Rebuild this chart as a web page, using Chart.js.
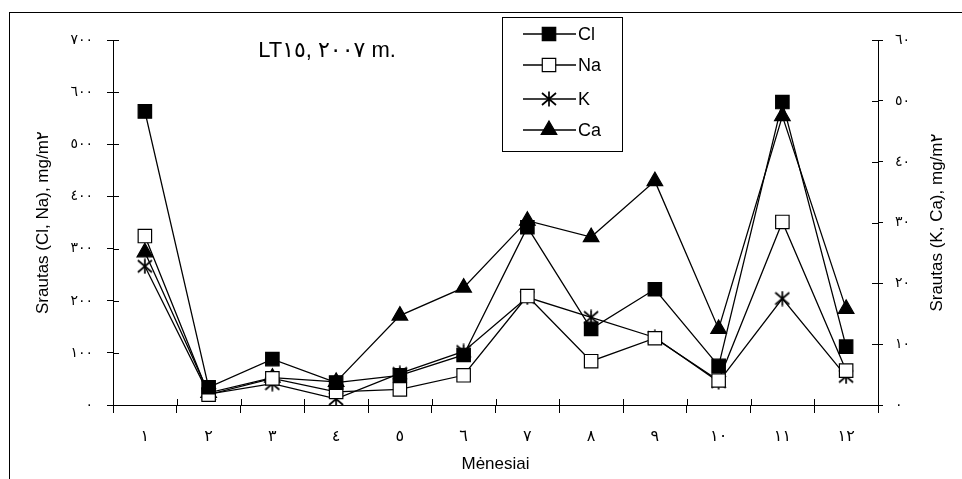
<!DOCTYPE html>
<html>
<head>
<meta charset="utf-8">
<script src="https://cdn.jsdelivr.net/npm/chart.js@4/dist/chart.umd.min.js"></script>
<style>
  html, body { margin: 0; padding: 0; background: #fff; overflow: hidden; }
  .wrap { position: relative; width: 962px; height: 479px; }
  .frame { position: absolute; left: 9px; top: 12px; width: 1200px; height: 800px;
           border-left: 1px solid #000; border-top: 1px solid #000; pointer-events: none; }
</style>
</head>
<body>
<div class="wrap">
  <canvas id="myChart" width="962" height="479"></canvas>
  <div class="frame"></div>
</div>
<script>
const FONT = "'Liberation Sans', Arial, 'DejaVu Sans', sans-serif";

// menesiai (x asis)
const months = ['١', '٢', '٣', '٤', '٥', '٦', '٧', '٨', '٩', '١٠', '١١', '١٢'];
// kaire asis: Cl, Na (mg/m2)
const cl = [563, 34, 88, 43, 57, 96, 341, 146, 222, 75, 581, 112];
const na = [324, 20, 51, 25, 30, 57, 209, 84, 128, 47, 351, 66];
// desine asis: K, Ca (mg/m2)
const k = [22.8, 1.8, 3.5, 1.0, 5.2, 8.8, 17.7, 14.4, 11.1, 3.8, 17.5, 4.7];
const ca = [25.1, 2.0, 4.5, 3.8, 14.7, 19.3, 30.3, 27.6, 36.8, 12.5, 47.5, 15.8];

const leftTicks = ['٠', '١٠٠', '٢٠٠', '٣٠٠', '٤٠٠', '٥٠٠', '٦٠٠', '٧٠٠'];
const rightTicks = ['٠', '١٠', '٢٠', '٣٠', '٤٠', '٥٠', '٦٠'];

// LRM, kad skaiciai nesusikeistu vietomis
const chartTitle = 'LT١٥\u200E, ٢٠٠٧ m.';
const rightTitle = 'Srautas (K, Ca), mg/m٢';

// Excel tipo zvaigzdute (X + vertikali linija)
function makeStar() {
  const c = document.createElement('canvas');
  c.width = 16; c.height = 16;
  const g = c.getContext('2d');
  g.strokeStyle = '#000';
  g.lineWidth = 1.7;
  g.beginPath();
  g.moveTo(8, 0.5); g.lineTo(8, 15.5);
  g.moveTo(1, 2); g.lineTo(15, 14);
  g.moveTo(15, 2); g.lineTo(1, 14);
  g.stroke();
  return c;
}
const starImg = makeStar();

function series(label, data, axis, style, fill, radius) {
  return {
    label: label,
    data: data,
    yAxisID: axis,
    borderColor: '#000',
    borderWidth: 1.3,
    pointStyle: style,
    pointRadius: radius,
    pointHoverRadius: radius,
    pointBackgroundColor: fill,
    pointBorderColor: '#000',
    pointBorderWidth: 1.2,
    tension: 0
  };
}

// trumpi bruksneliai i vidu (kaip Excel "cross")
const crossTicks = {
  id: 'crossTicks',
  afterDraw(chart) {
    const ctx = chart.ctx;
    const a = chart.chartArea;
    ctx.save();
    ctx.strokeStyle = '#000';
    ctx.lineWidth = 1;
    ctx.beginPath();
    const n = months.length;
    for (let i = 0; i <= n; i++) {
      const x = Math.round(a.left + i * (a.right - a.left) / n) + 0.5;
      ctx.moveTo(x, a.bottom); ctx.lineTo(x, a.bottom - 6);
    }
    const yl = chart.scales.y;
    yl.ticks.forEach((t, i) => {
      const y = Math.round(yl.getPixelForTick(i)) + 0.5;
      ctx.moveTo(a.left, y); ctx.lineTo(a.left + 6, y);
    });
    const yr = chart.scales.y1;
    yr.ticks.forEach((t, i) => {
      const y = Math.round(yr.getPixelForTick(i)) + 0.5;
      ctx.moveTo(a.right, y); ctx.lineTo(a.right - 6, y);
    });
    ctx.stroke();

    // desines asies pavadinimas skaitomas is apacios i virsu
    ctx.fillStyle = '#000';
    ctx.font = '17px ' + FONT;
    ctx.textAlign = 'center';
    ctx.textBaseline = 'middle';
    ctx.translate(937, (a.top + a.bottom) / 2);
    ctx.rotate(-Math.PI / 2);
    ctx.fillText(rightTitle, 0, 0);
    ctx.restore();
  }
};

// pavadinimas ir legenda
const titleLegend = {
  id: 'titleLegend',
  afterDraw(chart) {
    const ctx = chart.ctx;
    ctx.save();
    ctx.fillStyle = '#000';
    ctx.font = '22px ' + FONT;
    ctx.textAlign = 'center';
    ctx.textBaseline = 'middle';
    ctx.direction = 'ltr';
    ctx.fillText(chartTitle, 327, 51);

    ctx.strokeStyle = '#000';
    ctx.lineWidth = 1;
    ctx.strokeRect(502.5, 17.5, 120, 134);
    const rows = [34, 65, 99, 130];
    ctx.font = '18px ' + FONT;
    ctx.textAlign = 'left';
    chart.data.datasets.forEach((ds, i) => {
      const y = rows[i];
      ctx.beginPath();
      ctx.lineWidth = 1.3;
      ctx.moveTo(523, y); ctx.lineTo(576, y);
      ctx.stroke();
      ctx.fillStyle = ds.pointBackgroundColor;
      ctx.lineWidth = ds.pointBorderWidth;
      Chart.helpers.drawPoint(ctx, {
        pointStyle: ds.pointStyle, radius: ds.pointRadius, rotation: 0, borderWidth: ds.pointBorderWidth
      }, 549, y);
      ctx.fillStyle = '#000';
      ctx.fillText(ds.label, 578, y + 1);
    });
    ctx.restore();
  }
};

const ctx = document.getElementById('myChart').getContext('2d');
new Chart(ctx, {
  type: 'line',
  data: {
    labels: months,
    datasets: [
      series('Cl', cl, 'y', 'rect', '#000', 9.5),
      series('Na', na, 'y', 'rect', '#fff', 9.5),
      series('K', k, 'y1', starImg, '#000', 8),
      series('Ca', ca, 'y1', 'triangle', '#000', 9)
    ]
  },
  options: {
    responsive: false,
    animation: false,
    layout: { padding: { top: 40, left: 0, right: 0, bottom: 0 } },
    plugins: { legend: { display: false }, tooltip: { enabled: false } },
    scales: {
      x: {
        offset: true,
        grid: { offset: true, drawOnChartArea: false, tickLength: 8, color: '#000' },
        border: { color: '#000', width: 1 },
        ticks: { color: '#000', font: { family: FONT, size: 16 }, padding: 14, maxRotation: 0 },
        title: { display: true, text: 'Mėnesiai', color: '#000', font: { family: FONT, size: 17 }, padding: { top: 0, bottom: 4 } },
        afterFit(s) { s.height = 74; }
      },
      y: {
        position: 'left',
        min: 0, max: 700,
        grid: { drawOnChartArea: false, tickLength: 6, color: '#000' },
        border: { color: '#000', width: 1 },
        ticks: {
          stepSize: 100, color: '#000', padding: 14, font: { family: FONT, size: 14 },
          callback: (v, i) => leftTicks[i]
        },
        title: { display: true, text: 'Srautas (Cl, Na), mg/m٢', color: '#000', font: { family: FONT, size: 17 }, padding: { top: 33, bottom: 0 } },
        afterFit(s) { s.width = 113; }
      },
      y1: {
        position: 'right',
        min: 0, max: 60,
        grid: { drawOnChartArea: false, tickLength: 5, color: '#000' },
        border: { color: '#000', width: 1 },
        ticks: {
          stepSize: 10, color: '#000', padding: 12, font: { family: FONT, size: 14 },
          callback: (v, i) => rightTicks[i]
        },
        afterFit(s) { s.width = 84; }
      }
    }
  },
  plugins: [crossTicks, titleLegend]
});
</script>
</body>
</html>
